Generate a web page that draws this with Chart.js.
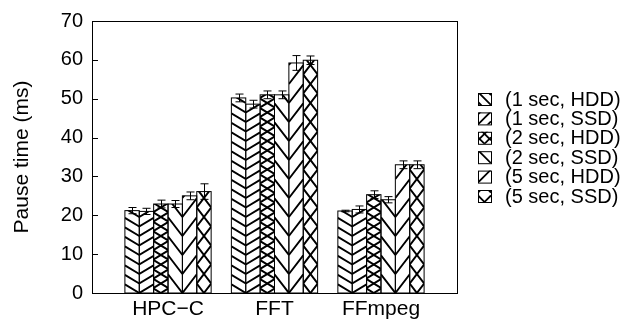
<!DOCTYPE html>
<html>
<head>
<meta charset="utf-8">
<script src="https://cdn.jsdelivr.net/npm/chart.js@4"></script>
<style>
  html, body { margin: 0; padding: 0; background: #fff; }
  #c { display: block; }
</style>
</head>
<body>
<canvas id="c" width="623" height="325"></canvas>
<script>
// Workloads on the x axis
const categories = ['HPC\u2212C', 'FFT', 'FFmpeg'];

// Checkpoint interval / storage combinations
const seriesNames = ['(1 sec, HDD)', '(1 sec, SSD)', '(2 sec, HDD)', '(2 sec, SSD)', '(5 sec, HDD)', '(5 sec, SSD)'];

// Mean pause time (ms) per workload
const pause1sHDD = [21.2, 50.2, 21.1];
const pause1sSSD = [21.0, 48.6, 21.5];
const pause2sHDD = [22.9, 51.0, 25.3];
const pause2sSSD = [22.9, 51.0, 24.0];
const pause5sHDD = [25.0, 59.2, 33.0];
const pause5sSSD = [26.1, 59.9, 33.0];

// Error (± ms) per workload
const err1sHDD = [0.8, 1.0, 0.2];
const err1sSSD = [0.8, 1.0, 0.9];
const err2sHDD = [1.0, 1.0, 1.0];
const err2sSSD = [0.9, 1.0, 0.8];
const err5sHDD = [1.0, 1.9, 1.0];
const err5sSSD = [2.0, 1.1, 1.0];

// Y axis ticks
const yTicks = [0, 10, 20, 30, 40, 50, 60, 70];

const seriesValues = [pause1sHDD, pause1sSSD, pause2sHDD, pause2sSSD, pause5sHDD, pause5sSSD];
const seriesErrors = [err1sHDD, err1sSSD, err2sHDD, err2sSSD, err5sHDD, err5sSSD];

// Hatch styles: dirs -1 = "\", +1 = "/"; slope in px/px; gap = vertical spacing
const hatchStyles = [
  { dirs: [-1],    slope: 0.6, gap: 9.5 },
  { dirs: [1],     slope: 0.6, gap: 9.5 },
  { dirs: [-1, 1], slope: 0.6, gap: 9.5 },
  { dirs: [-1],    slope: 1.3, gap: 19 },
  { dirs: [1],     slope: 1.3, gap: 19 },
  { dirs: [-1, 1], slope: 1.3, gap: 19 }
];
const legendHatch = [
  { dirs: [-1],    slope: 1, gap: 10 },
  { dirs: [1],     slope: 1, gap: 10 },
  { dirs: [-1, 1], slope: 1, gap: 10 },
  { dirs: [-1],    slope: 1, gap: 16 },
  { dirs: [1],     slope: 1, gap: 16 },
  { dirs: [-1, 1], slope: 1, gap: 16 }
];

const FONT = '"Liberation Sans", Arial, Helvetica, sans-serif';

// Fill a rectangle with hatch lines anchored at the given edge so that
// neighbouring "\" and "/" bars meet in chevrons.
function drawHatch(ctx, left, top, right, bottom, style, lineWidth) {
  ctx.save();
  ctx.beginPath();
  ctx.rect(left, top, right - left, bottom - top);
  ctx.clip();
  ctx.strokeStyle = '#000';
  ctx.lineWidth = lineWidth;
  ctx.lineCap = 'butt';
  const hMax = bottom - top;
  for (const d of style.dirs) {
    let anchor;
    if (style.dirs.length > 1) anchor = (left + right) / 2;
    else anchor = d < 0 ? right : left;
    const span = style.slope * (Math.abs(left - anchor) + Math.abs(right - anchor));
    const kMin = Math.floor(-span / style.gap) - 1;
    const kMax = Math.ceil((hMax + span) / style.gap) + 1;
    ctx.beginPath();
    for (let k = kMin; k <= kMax; k++) {
      const hL = k * style.gap + d * style.slope * (left - anchor);
      const hR = k * style.gap + d * style.slope * (right - anchor);
      ctx.moveTo(left, bottom - hL);
      ctx.lineTo(right, bottom - hR);
    }
    ctx.stroke();
  }
  ctx.restore();
}

const hatchPlugin = {
  id: 'hatchBars',
  afterDatasetsDraw(chart) {
    const ctx = chart.ctx;
    const yScale = chart.scales.y;
    chart.data.datasets.forEach((ds, di) => {
      const meta = chart.getDatasetMeta(di);
      meta.data.forEach((el, i) => {
        const p = el.getProps(['x', 'y', 'base', 'width'], true);
        const left = p.x - p.width / 2;
        const right = p.x + p.width / 2;
        drawHatch(ctx, left, p.y, right, p.base, hatchStyles[di], 1.9);
        ctx.save();
        ctx.strokeStyle = '#000';
        ctx.lineWidth = 1;
        ctx.strokeRect(left, p.y, right - left, p.base - p.y);
        ctx.restore();
      });
    });
    // error bars
    ctx.save();
    ctx.strokeStyle = '#000';
    ctx.lineWidth = 1;
    chart.data.datasets.forEach((ds, di) => {
      const meta = chart.getDatasetMeta(di);
      meta.data.forEach((el, i) => {
        const v = seriesValues[di][i];
        const e = seriesErrors[di][i];
        const cx = Math.round(el.getProps(['x'], true).x) + 0.5;
        const yTop = yScale.getPixelForValue(v + e);
        const yBot = yScale.getPixelForValue(v - e);
        ctx.beginPath();
        ctx.moveTo(cx, yTop); ctx.lineTo(cx, yBot);
        ctx.moveTo(cx - 4, yTop); ctx.lineTo(cx + 4, yTop);
        ctx.moveTo(cx - 4, yBot); ctx.lineTo(cx + 4, yBot);
        ctx.stroke();
      });
    });
    ctx.restore();
  },
  afterDraw(chart) {
    const ctx = chart.ctx;
    const a = chart.chartArea;
    const yScale = chart.scales.y;
    ctx.save();
    ctx.strokeStyle = '#000';
    ctx.lineWidth = 1;
    // axes box
    ctx.strokeRect(Math.round(a.left) + 0.5, Math.round(a.top) + 0.5,
                   Math.round(a.right - a.left), Math.round(a.bottom - a.top));
    // inward y ticks
    ctx.beginPath();
    for (const t of yTicks) {
      const y = Math.round(yScale.getPixelForValue(t)) + 0.5;
      ctx.moveTo(a.left, y);
      ctx.lineTo(a.left + 6, y);
    }
    ctx.stroke();
    // legend
    const boxX = 478, boxW = 13, boxH = 12, rowH = 19.4, firstY = 93;
    ctx.font = '20px ' + FONT;
    ctx.textBaseline = 'middle';
    ctx.textAlign = 'left';
    seriesNames.forEach((name, i) => {
      const y = firstY + i * rowH;
      ctx.fillStyle = '#fff';
      ctx.fillRect(boxX, y, boxW, boxH);
      drawHatch(ctx, boxX, y, boxX + boxW, y + boxH, legendHatch[i], 1.8);
      ctx.strokeStyle = '#000';
      ctx.lineWidth = 1;
      ctx.strokeRect(boxX + 0.5, y + 0.5, boxW, boxH);
      ctx.fillStyle = '#000';
      ctx.fillText(name, 505, y + boxH / 2 + 1);
    });
    ctx.restore();
  }
};

const datasets = seriesNames.map((name, di) => ({
  label: name,
  data: seriesValues[di].map((v, i) => ({ x: i, y: v })),
  backgroundColor: '#fff',
  borderWidth: 0,
  categoryPercentage: 0.81,
  barPercentage: 1.0
}));

new Chart(document.getElementById('c'), {
  type: 'bar',
  data: { datasets },
  options: {
    responsive: false,
    devicePixelRatio: 1,
    animation: false,
    layout: { padding: { top: 11, right: 166, bottom: 0, left: 0 } },
    plugins: { legend: { display: false }, tooltip: { enabled: false } },
    scales: {
      x: {
        type: 'linear',
        offset: false,
        min: -0.714,
        max: 2.714,
        grid: { display: false, drawTicks: false, offset: false },
        border: { display: false },
        afterBuildTicks: (scale) => { scale.ticks = categories.map((_, i) => ({ value: i })); },
        afterFit: (scale) => { scale.height = 32; },
        ticks: {
          padding: 4,
          color: '#000',
          font: { family: FONT, size: 21 },
          maxRotation: 0,
          autoSkip: false,
          callback: (v) => categories[v] ?? ''
        }
      },
      y: {
        min: 0,
        max: 70,
        grid: { display: false, drawTicks: false },
        border: { display: false },
        afterBuildTicks: (scale) => { scale.ticks = yTicks.map(v => ({ value: v })); },
        afterFit: (scale) => { scale.width = 92; },
        ticks: {
          padding: 9,
          color: '#000',
          font: { family: FONT, size: 20 }
        },
        title: {
          display: true,
          text: 'Pause time (ms)',
          color: '#000',
          font: { family: FONT, size: 21 },
          padding: { top: 10, bottom: 0 }
        }
      }
    }
  },
  plugins: [hatchPlugin]
});
</script>
</body>
</html>
